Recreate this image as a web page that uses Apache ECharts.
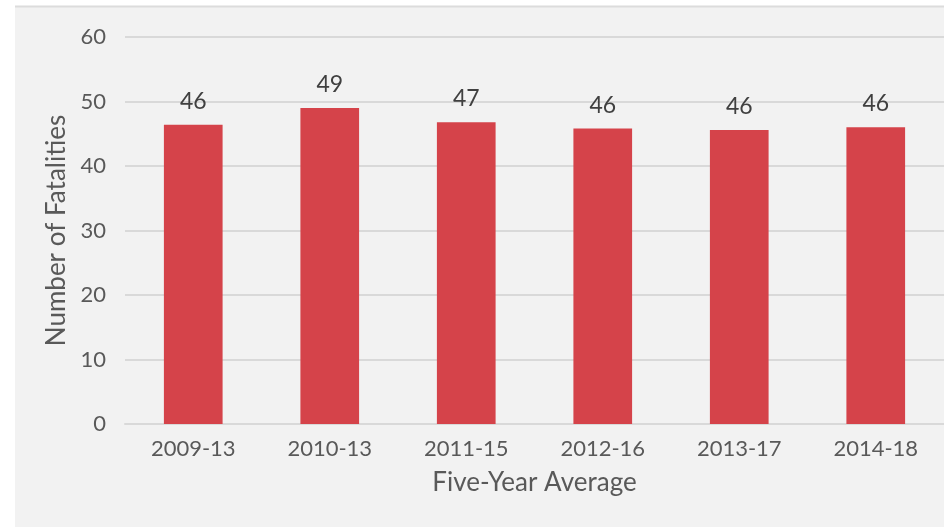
<!DOCTYPE html>
<html>
<head>
<meta charset="utf-8">
<script src="https://cdn.jsdelivr.net/npm/echarts@6/dist/echarts.min.js"></script>
<style>
  html, body { margin: 0; padding: 0; background: #ffffff; }
  #chart { width: 944px; height: 527px; }
</style>
</head>
<body>
<div id="chart"></div>
<script>
// Five-year average fatality counts
const periods = ['2009-13', '2010-13', '2011-15', '2012-16', '2013-17', '2014-18'];
const fatalities = [46.4, 49.0, 46.8, 45.8, 45.6, 46.0];
const yTicks = [0, 10, 20, 30, 40, 50, 60];

const FONT = 'Lato, "Open Sans", sans-serif';
const chart = echarts.init(document.getElementById('chart'), null, { renderer: 'canvas' });

chart.setOption({
  backgroundColor: '#ffffff',
  animation: false,
  graphic: [
    {
      type: 'rect',
      z: -10,
      shape: { x: 15, y: 7, width: 944, height: 540 },
      style: { fill: '#f2f2f2' }
    },
    {
      type: 'line',
      z: -9,
      shape: { x1: 15, y1: 6.5, x2: 944, y2: 6.5 },
      style: { stroke: '#dcdcdc', lineWidth: 2 }
    }
  ],
  grid: { left: 125, right: 0, top: 37, bottom: 103, containLabel: false },
  xAxis: {
    type: 'category',
    data: periods,
    name: 'Five-Year Average',
    nameLocation: 'middle',
    nameGap: 46,
    nameTextStyle: { fontFamily: FONT, fontSize: 26, color: '#595959' },
    axisLine: { show: true, lineStyle: { color: '#d9d9d9', width: 2 } },
    axisTick: { show: false },
    axisLabel: { fontFamily: FONT, fontSize: 22, color: '#595959', margin: 14 }
  },
  yAxis: {
    type: 'value',
    min: yTicks[0],
    max: yTicks[yTicks.length - 1],
    interval: 10,
    name: 'Number of Fatalities',
    nameLocation: 'middle',
    nameGap: 55,
    nameTextStyle: { fontFamily: FONT, fontSize: 26, color: '#595959' },
    axisLine: { show: false },
    axisTick: { show: false },
    axisLabel: { fontFamily: FONT, fontSize: 22, color: '#595959', margin: 19 },
    splitLine: { lineStyle: { color: '#d9d9d9', width: 2 } }
  },
  series: [{
    type: 'bar',
    data: fatalities,
    barWidth: '43%',
    itemStyle: { color: '#d5434a' },
    label: {
      show: true,
      position: 'top',
      distance: 12,
      fontFamily: FONT,
      fontSize: 23,
      color: '#404040',
      formatter: p => Math.round(p.value)
    }
  }]
});
</script>
</body>
</html>
